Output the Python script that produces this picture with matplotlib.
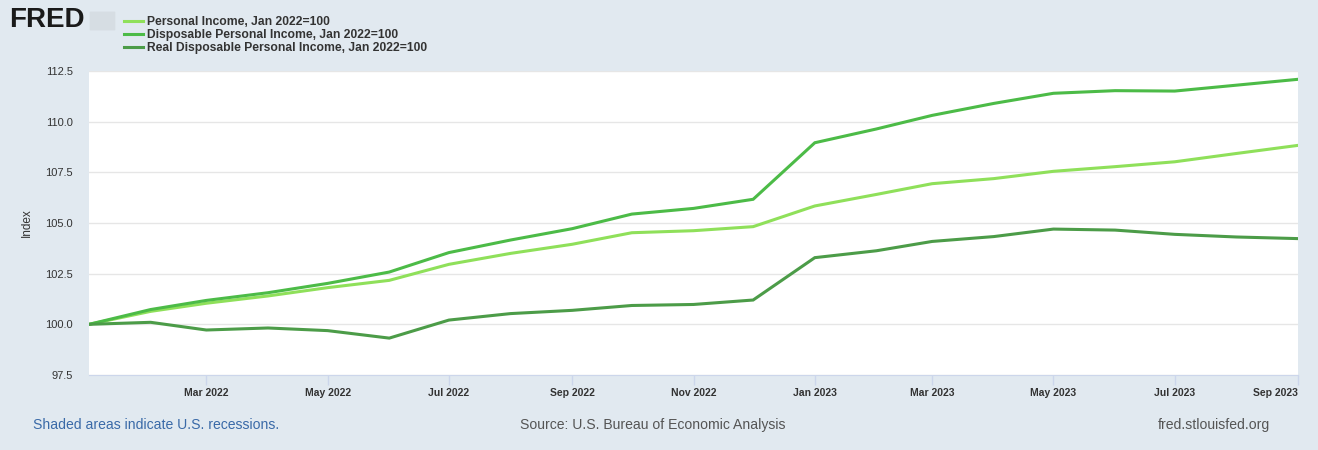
import matplotlib
matplotlib.use("Agg")
import matplotlib.pyplot as plt
import matplotlib.dates as mdates
import pandas as pd
from matplotlib.patches import FancyBboxPatch

plt.rcParams['font.family'] = ['Liberation Sans', 'DejaVu Sans']

# monthly observations, Jan 2022 = 100
months = pd.date_range("2022-01-01", "2023-09-01", freq="MS")
personal = [100.0, 100.64, 101.04, 101.40, 101.81, 102.17, 102.96, 103.50, 103.95, 104.52, 104.62,
            104.82, 105.84, 106.41, 106.94, 107.19, 107.55, 107.78, 108.02, 108.43, 108.83]
disposable = [100.0, 100.73, 101.18, 101.56, 102.02, 102.58, 103.54, 104.16, 104.72, 105.44, 105.72,
              106.17, 108.96, 109.64, 110.31, 110.90, 111.40, 111.53, 111.51, 111.80, 112.09]
real_disp = [100.0, 100.10, 99.72, 99.82, 99.69, 99.32, 100.21, 100.53, 100.69, 100.93, 100.98,
             101.20, 103.29, 103.63, 104.09, 104.33, 104.70, 104.65, 104.44, 104.31, 104.23]

labels = ["Personal Income, Jan 2022=100",
          "Disposable Personal Income, Jan 2022=100",
          "Real Disposable Personal Income, Jan 2022=100"]
colors = ["#8fe05a", "#4cbb47", "#4c9c48"]

y_ticks = [97.5, 100.0, 102.5, 105.0, 107.5, 110.0, 112.5]
x_ticks = pd.date_range("2022-03-01", "2023-09-01", freq="2MS")

W, H = 1318, 450
bg = "#e1e9f0"
fig = plt.figure(figsize=(W / 100, H / 100), dpi=100, facecolor=bg)
ax = fig.add_axes([89 / W, 1 - 375 / H, (1298 - 89) / W, (375 - 71) / H])
ax.set_facecolor("white")

for vals, lab, c in zip([personal, disposable, real_disp], labels, colors):
    ax.plot(months, vals, color=c, lw=2.2, label=lab, solid_joinstyle="miter")

ax.set_xlim(pd.Timestamp("2022-01-01"), pd.Timestamp("2023-09-01"))
ax.set_ylim(97.5, 112.5)
ax.set_yticks(y_ticks)
ax.set_yticklabels([f"{v:.1f}" for v in y_ticks])
ax.yaxis.grid(True, color="#e6e6e6", lw=1)
ax.set_axisbelow(True)
ax.set_xticks(x_ticks)
ax.xaxis.set_major_formatter(mdates.DateFormatter("%b %Y"))

for s in ["top", "right", "left"]:
    ax.spines[s].set_visible(False)
ax.spines["bottom"].set_color("#ccd6eb")
ax.tick_params(axis="y", length=0, pad=11.5, labelsize=8, labelcolor="#333333")
ax.tick_params(axis="x", length=7, width=1, color="#ccd6eb", pad=2, labelsize=7.5, labelcolor="#333333")
for t in ax.get_xticklabels():
    t.set_fontweight("bold")
ax.get_xticklabels()[-1].set_horizontalalignment("right")

ax.set_ylabel("Index", fontsize=8.5, color="#333333", labelpad=9)

# header: logo + legend
fig.text(9 / W, 1 - 20 / H, "FRED", fontsize=20, fontweight="bold", color="#1a1a1a", va="center")
fig.patches.append(FancyBboxPatch((91 / W, 1 - 30 / H), 23 / W, 18 / H, boxstyle="round,pad=0.001",
                                  transform=fig.transFigure, facecolor="#d6dde3", edgecolor="none"))
leg = fig.legend(loc="upper left", bbox_to_anchor=(118 / W, 1 - 10 / H), frameon=False,
                 handlelength=1.55, handletextpad=0.35, labelspacing=0.1, borderpad=0,
                 prop={"size": 8.7, "weight": "bold"})
for t in leg.get_texts():
    t.set_color("#333333")

# footer
fig.text(33 / W, 1 - 425 / H, "Shaded areas indicate U.S. recessions.", fontsize=10.1,
         color="#3a6aa8", va="center")
fig.text(653 / W, 1 - 425 / H, "Source: U.S. Bureau of Economic Analysis", fontsize=10.1,
         color="#555555", va="center", ha="center")
fig.text(1270 / W, 1 - 425 / H, "fred.stlouisfed.org", fontsize=10.1,
         color="#555555", va="center", ha="right")

fig.savefig("out.png", dpi=100, facecolor=bg)
